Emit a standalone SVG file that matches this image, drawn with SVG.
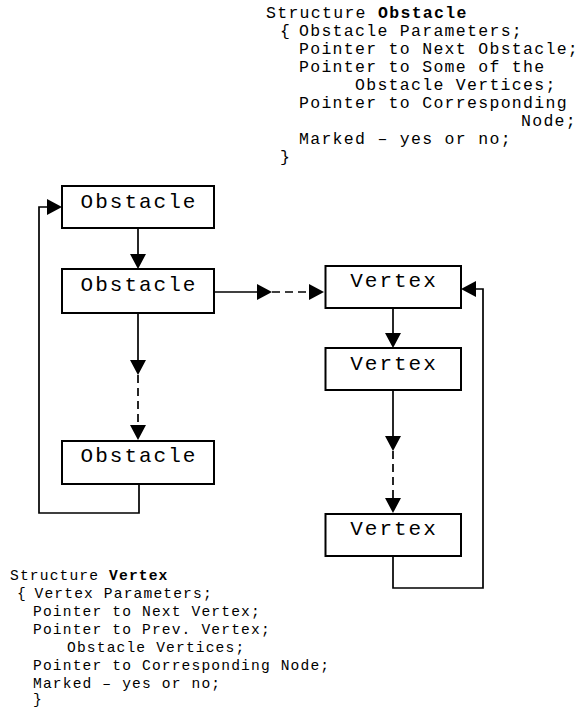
<svg xmlns="http://www.w3.org/2000/svg" width="582" height="709" viewBox="0 0 582 709">
  <style>
    .box { fill: #fff; stroke: #000; stroke-width: 2; }
    .label { font-family: "Liberation Mono", "Courier New", monospace; font-size: 21px; letter-spacing: 2px; fill: #000; }
    .code { font-family: "Liberation Mono", "Courier New", monospace; font-size: 16.5px; letter-spacing: 1.3px; fill: #000; }
    .code.small { font-size: 14.6px; letter-spacing: 1.15px; }
    .code .kw { font-weight: bold; }
    .wire { fill: none; stroke: #000; stroke-width: 1.7; }
    .dash { stroke-dasharray: 8 5; }
  </style>
  <defs>
    <marker id="head" markerUnits="userSpaceOnUse" markerWidth="15" markerHeight="16" refX="0" refY="8" orient="auto" overflow="visible">
      <path d="M0,0 L15,8 L0,16 Z" fill="#000"/>
    </marker>
  </defs>
  <rect width="582" height="709" fill="#fff"/>

  <!-- structure declarations -->
  <g id="obstacle-struct" class="code">
    <text x="266" y="18">Structure <tspan class="kw">Obstacle</tspan></text>
    <text y="36"><tspan x="280">{</tspan><tspan x="299">Obstacle Parameters;</tspan></text>
    <text x="299" y="54">Pointer to Next Obstacle;</text>
    <text x="299" y="72">Pointer to Some of the</text>
    <text x="355" y="90">Obstacle Vertices;</text>
    <text x="299" y="108">Pointer to Corresponding</text>
    <text x="521" y="126">Node;</text>
    <text x="299" y="144">Marked – yes or no;</text>
    <text x="280" y="162">}</text>
  </g>
  <g id="vertex-struct" class="code small">
    <text x="10" y="580">Structure <tspan class="kw">Vertex</tspan></text>
    <text y="598"><tspan x="17">{</tspan><tspan x="34.5">Vertex Parameters;</tspan></text>
    <text x="33" y="616">Pointer to Next Vertex;</text>
    <text x="33" y="634">Pointer to Prev. Vertex;</text>
    <text x="67" y="652">Obstacle Vertices;</text>
    <text x="33" y="670">Pointer to Corresponding Node;</text>
    <text x="33" y="688">Marked – yes or no;</text>
    <text x="33" y="704">}</text>
  </g>

  <!-- connectors -->
  <g id="connectors">
    <path class="wire" d="M138,228 V254" marker-end="url(#head)"/>
    <path class="wire" d="M138,313 V360" marker-end="url(#head)"/>
    <path class="wire dash" d="M138,375 V425" marker-end="url(#head)"/>
    <path class="wire" d="M139,484 V513 H39 V207 H47" marker-end="url(#head)"/>
    <path class="wire" d="M214,292 H257" marker-end="url(#head)"/>
    <path class="wire dash" d="M272,292 H309" marker-end="url(#head)"/>
    <path class="wire" d="M393,308 V333" marker-end="url(#head)"/>
    <path class="wire" d="M393,390 V436" marker-end="url(#head)"/>
    <path class="wire dash" d="M393,451 V498" marker-end="url(#head)"/>
    <path class="wire" d="M393,556 V588 H483 V289 H476" marker-end="url(#head)"/>
  </g>

  <!-- obstacle list -->
  <g id="obstacle-1">
    <rect class="box" x="62" y="186" width="152" height="42"/>
    <text class="label" x="80.6" y="208">Obstacle</text>
  </g>
  <g id="obstacle-2">
    <rect class="box" x="62" y="269" width="152" height="44"/>
    <text class="label" x="80.6" y="291">Obstacle</text>
  </g>
  <g id="obstacle-3">
    <rect class="box" x="62" y="441" width="152" height="43"/>
    <text class="label" x="80.6" y="462">Obstacle</text>
  </g>

  <!-- vertex list -->
  <g id="vertex-1">
    <rect class="box" x="325.5" y="266" width="135.5" height="42"/>
    <text class="label" x="350.2" y="287">Vertex</text>
  </g>
  <g id="vertex-2">
    <rect class="box" x="325.5" y="348" width="135.5" height="42"/>
    <text class="label" x="350.2" y="370">Vertex</text>
  </g>
  <g id="vertex-3">
    <rect class="box" x="325.5" y="514" width="135.5" height="42"/>
    <text class="label" x="350.2" y="535">Vertex</text>
  </g>
</svg>
